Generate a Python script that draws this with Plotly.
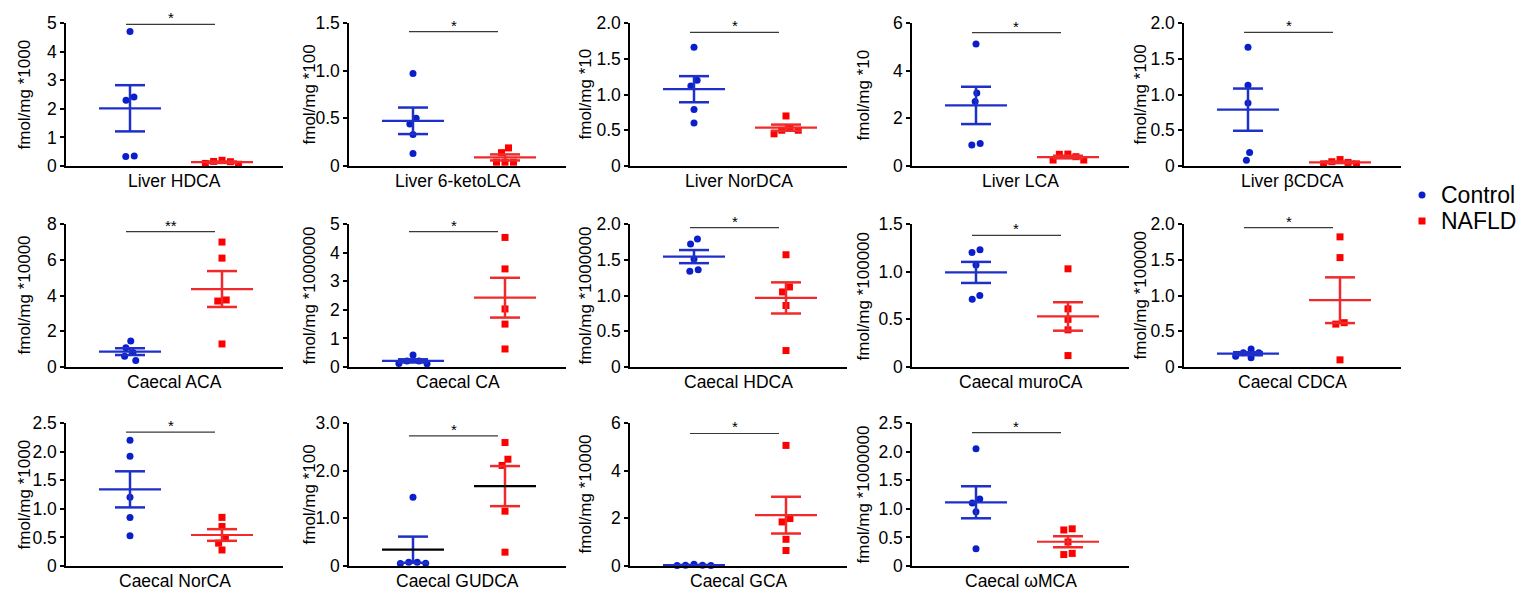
import math
import plotly.graph_objects as go

# ---------------- data ----------------
panel_names = ["Liver HDCA", "Liver 6-ketoLCA", "Liver NorDCA", "Liver LCA", "Liver βCDCA",
               "Caecal ACA", "Caecal CA", "Caecal HDCA", "Caecal muroCA", "Caecal CDCA",
               "Caecal NorCA", "Caecal GUDCA", "Caecal GCA", "Caecal ωMCA"]

y_titles = ["fmol/mg *1000", "fmol/mg *100", "fmol/mg *10", "fmol/mg *10", "fmol/mg *100",
            "fmol/mg *10000", "fmol/mg *1000000", "fmol/mg *1000000", "fmol/mg *100000", "fmol/mg *100000",
            "fmol/mg *1000", "fmol/mg *100", "fmol/mg *10000", "fmol/mg *1000000"]

tick_labels = [
    ["0", "1", "2", "3", "4", "5"],
    ["0", "0.5", "1.0", "1.5"],
    ["0", "0.5", "1.0", "1.5", "2.0"],
    ["0", "2", "4", "6"],
    ["0", "0.5", "1.0", "1.5", "2.0"],
    ["0", "2", "4", "6", "8"],
    ["0", "1", "2", "3", "4", "5"],
    ["0", "0.5", "1.0", "1.5", "2.0"],
    ["0", "0.5", "1.0", "1.5"],
    ["0", "0.5", "1.0", "1.5", "2.0"],
    ["0", "0.5", "1.0", "1.5", "2.0", "2.5"],
    ["0", "1.0", "2.0", "3.0"],
    ["0", "2", "4", "6"],
    ["0", "0.5", "1.0", "1.5", "2.0", "2.5"],
]

control_values = [
    [4.70, 2.41, 2.30, 0.33, 0.35],
    [0.97, 0.44, 0.50, 0.33, 0.13],
    [1.66, 1.12, 1.20, 0.79, 0.60],
    [5.12, 3.06, 2.71, 0.88, 0.94],
    [1.66, 1.13, 0.88, 0.08, 0.19],
    [1.46, 1.07, 0.81, 0.60, 0.36],
    [0.21, 0.11, 0.42, 0.12, 0.21],
    [1.79, 1.72, 1.51, 1.36, 1.34],
    [1.23, 1.20, 1.07, 0.75, 0.71],
    [0.15, 0.20, 0.25, 0.13, 0.20],
    [2.20, 1.92, 1.20, 0.85, 0.53],
    [1.44, 0.08, 0.05, 0.06, 0.08],
    [0.07, 0.03, 0.02, 0.02, 0.03],
    [2.05, 1.10, 1.17, 0.95, 0.30],
]

nafld_values = [
    [0.20, 0.15, 0.06, 0.09, 0.16],
    [0.19, 0.14, 0.04, 0.04, 0.04],
    [0.70, 0.50, 0.45, 0.50, 0.53],
    [0.50, 0.39, 0.25, 0.25, 0.49],
    [0.09, 0.05, 0.03, 0.03, 0.06],
    [6.99, 6.09, 3.75, 3.69, 1.29],
    [4.53, 3.43, 2.03, 1.50, 0.63],
    [1.57, 1.12, 1.05, 0.86, 0.23],
    [1.03, 0.61, 0.50, 0.39, 0.12],
    [1.82, 1.53, 0.62, 0.60, 0.10],
    [0.85, 0.69, 0.49, 0.40, 0.28],
    [2.59, 2.24, 2.11, 1.15, 0.29],
    [5.06, 1.99, 1.85, 1.12, 0.65],
    [0.63, 0.65, 0.42, 0.22, 0.20],
]

sig_heights = [4.95, 1.41, 1.87, 5.6, 1.87, 7.57, 4.73, 1.95, 1.38, 1.95, 2.34, 2.73, 5.56, 2.33]
sig_labels = ["*", "*", "*", "*", "*", "**", "*", "*", "*", "*", "*", "*", "*", "*"]
black_mean_panels = ["Caecal GUDCA"]
group_names = ["Control", "NAFLD"]

# ---------------- layout constants ----------------
W, H = 1521, 590
COL_LEFT = [66, 349, 630, 912, 1184]
TITLE_OFF = [42, 40, 45, 49, 44]
AX_W = 217
ROWS = [(23, 166), (224, 367), (423, 566)]
GROUP_X = [64, 156]
MEAN_HALF, CAP_HALF = 31, 15
SIG_X0, SIG_X1 = 60, 149
DIAM = 8.5

BLUE_M, BLUE_L = "#0A1ECC", "#1E30C8"
RED_M, RED_L = "#FF0000", "#F02A2A"
FONT = "Arial, 'Liberation Sans', sans-serif"


def swarm(values, k):
    """Beeswarm offsets (px) for values with k px per unit."""
    n = len(values)
    xs = [0.0] * n
    placed = []
    order = sorted(range(n), key=lambda i: -values[i])
    for i in order:
        y = values[i] * k
        cands = [0.0]
        for (xj, yj) in placed:
            dy = abs(y - yj)
            if dy < DIAM:
                dx = math.sqrt(DIAM ** 2 - dy ** 2)
                cands += [xj - dx, xj + dx]
        ok = [c for c in cands
              if all((c - xj) ** 2 + (y - yj) ** 2 >= DIAM ** 2 - 1e-6 for (xj, yj) in placed)]
        best = min(ok, key=lambda c: (round(abs(c), 6), c))
        xs[i] = best
        placed.append((best, y))
    comp = list(range(n))

    def find(a):
        while comp[a] != a:
            comp[a] = comp[comp[a]]
            a = comp[a]
        return a
    for a in range(n):
        for b in range(a + 1, n):
            d = math.hypot(xs[a] - xs[b], (values[a] - values[b]) * k)
            if d < DIAM * 1.05:
                comp[find(a)] = find(b)
    groups = {}
    for a in range(n):
        groups.setdefault(find(a), []).append(a)
    for g in groups.values():
        m = sum(xs[a] for a in g) / len(g)
        for a in g:
            xs[a] -= m
    return xs


def mean_sem(v):
    m = sum(v) / len(v)
    sd = math.sqrt(sum((x - m) ** 2 for x in v) / (len(v) - 1))
    return m, sd / math.sqrt(len(v))


fig = go.Figure()
annotations = []
layout_axes = {}

for i, name in enumerate(panel_names):
    row, col = divmod(i, 5)
    n = i + 1
    xa = "x" if n == 1 else f"x{n}"
    ya = "y" if n == 1 else f"y{n}"
    top, bottom = ROWS[row]
    left = COL_LEFT[col]
    ticks = [float(t) for t in tick_labels[i]]
    ymax = ticks[-1]
    k = (bottom - top) / ymax

    layout_axes["xaxis" if n == 1 else f"xaxis{n}"] = dict(
        domain=[left / W, (left + AX_W) / W], range=[0, AX_W], anchor=ya,
        showgrid=False, zeroline=False, showticklabels=False, ticks="", automargin=False,
        showline=True, linecolor="black", linewidth=1.5, fixedrange=True)
    layout_axes["yaxis" if n == 1 else f"yaxis{n}"] = dict(
        domain=[1 - bottom / H, 1 - top / H], range=[0, ymax], anchor=xa, automargin=False,
        showgrid=False, zeroline=False, showline=True, linecolor="black", linewidth=1.5,
        tickmode="array", tickvals=ticks, ticktext=tick_labels[i],
        ticks="outside", ticklen=4, tickwidth=1.5, tickcolor="black",
        tickfont=dict(family=FONT, size=17.5, color="black"), fixedrange=True)

    for g, (vals, sym, mc, lc) in enumerate([(control_values[i], "circle", BLUE_M, BLUE_L),
                                             (nafld_values[i], "square", RED_M, RED_L)]):
        cx = GROUP_X[g]
        offs = swarm(vals, k)
        fig.add_trace(go.Scatter(
            x=[cx + o for o in offs], y=vals, mode="markers", xaxis=xa, yaxis=ya,
            marker=dict(symbol=sym, size=7, color=mc, line=dict(width=0)),
            cliponaxis=False, showlegend=False, name=group_names[g], hoverinfo="y"))
        m, s = mean_sem(vals)
        up, lo = m + s, m - s
        fig.add_trace(go.Scatter(
            x=[cx - CAP_HALF, cx + CAP_HALF, None, cx, cx, None, cx - CAP_HALF, cx + CAP_HALF],
            y=[up, up, None, up, lo, None, lo, lo], mode="lines", xaxis=xa, yaxis=ya,
            line=dict(color=lc, width=2.5), showlegend=False, hoverinfo="skip"))
        mcol = "black" if name in black_mean_panels else lc
        fig.add_trace(go.Scatter(
            x=[cx - MEAN_HALF, cx + MEAN_HALF], y=[m, m], mode="lines", xaxis=xa, yaxis=ya,
            line=dict(color=mcol, width=2.2), showlegend=False, hoverinfo="skip"))

    fig.add_trace(go.Scatter(
        x=[SIG_X0, SIG_X1], y=[sig_heights[i]] * 2, mode="lines", xaxis=xa, yaxis=ya,
        line=dict(color="#3a3a3a", width=1.2), showlegend=False, hoverinfo="skip"))
    annotations.append(dict(
        text=sig_labels[i], x=(SIG_X0 + SIG_X1) / 2, y=sig_heights[i], xref=xa, yref=ya,
        xanchor="center", yanchor="bottom", yshift=-4, showarrow=False,
        font=dict(family=FONT, size=15, color="black")))
    annotations.append(dict(
        text=name, x=0.5, y=0, xref=f"{xa} domain", yref=f"{ya} domain",
        xanchor="center", yanchor="top", yshift=-3, showarrow=False,
        font=dict(family=FONT, size=17.5, color="black")))
    annotations.append(dict(
        text=y_titles[i], x=0, y=0.5, xref=f"{xa} domain", yref=f"{ya} domain",
        xanchor="center", yanchor="middle", xshift=-TITLE_OFF[col], textangle=-90,
        showarrow=False, font=dict(family=FONT, size=17, color="black")))

shapes = []
for j, (gname, typ, colr, cy) in enumerate([("Control", "circle", BLUE_M, 195),
                                              ("NAFLD", "rect", RED_M, 221)]):
    cx = 1422
    r = 3.5
    shapes.append(dict(type=typ, xref="paper", yref="paper",
                       x0=(cx - r) / W, x1=(cx + r) / W, y0=1 - (cy + r) / H, y1=1 - (cy - r) / H,
                       fillcolor=colr, line=dict(width=0)))
    annotations.append(dict(text=gname, x=1439 / W, y=1 - cy / H, xref="paper", yref="paper",
                            xanchor="left", yanchor="middle", showarrow=False,
                            font=dict(family=FONT, size=23, color="black")))

fig.update_layout(
    width=W, height=H, autosize=False,
    margin=dict(l=0, r=0, t=0, b=0),
    paper_bgcolor="white", plot_bgcolor="white",
    showlegend=False, annotations=annotations, shapes=shapes,
    font=dict(family=FONT, color="black"),
    **layout_axes)

fig.write_html("out.html", config={"displayModeBar": False},
               post_script="document.body.style.margin='0';document.body.style.overflow='hidden';")
